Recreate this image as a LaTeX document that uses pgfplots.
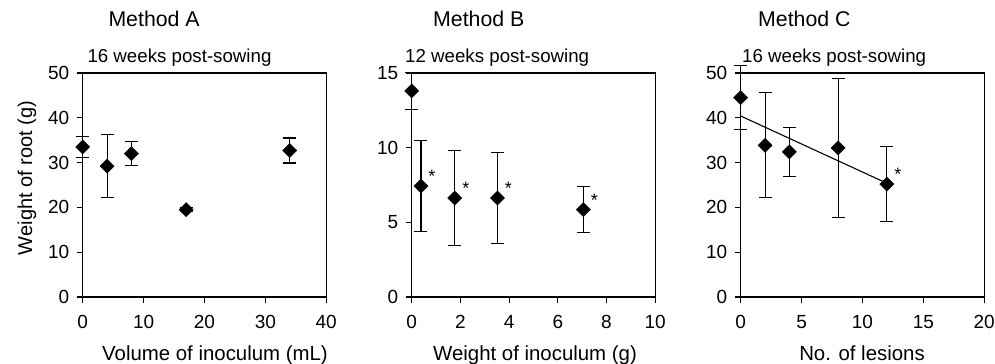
\documentclass[border=0pt]{standalone}
\usepackage{fontspec}
\setmainfont{Liberation Sans}
\usepackage{pgfplots}
\pgfplotsset{compat=1.18}
\begin{document}
\begin{tikzpicture}
\path[use as bounding box] (0bp,0bp) rectangle (995bp,364bp);
\pgfplotsset{
 every axis/.append style={
  scale only axis, width=243.5bp, height=224bp, anchor=south west,
  axis line style={line width=1.1bp},
  tick align=outside, tick pos=left, major tick length=6bp,
  every tick/.style={line width=1.1bp, black},
  ymin=0, clip=false,
  tick label style={font=\fontsize{19bp}{22bp}\selectfont},
  xticklabel style={yshift=-9bp},
  yticklabel style={xshift=-4bp},
  /pgf/number format/assume math mode=true,
 },
 pt/.style={only marks, black, mark=square*, mark size=5bp,
   mark options={rotate=45, fill=black, draw=black},
   error bars/.cd, y dir=both, y explicit,
   error mark options={rotate=90, mark size=6.5bp, line width=1.1bp, black},
   error bar style={line width=1.1bp, black}},
 star/.style={draw=none, mark=none, nodes near coords={*},
   every node near coord/.style={anchor=base, xshift=11bp, yshift=3.5bp, font=\fontsize{18bp}{20bp}\selectfont}},
}
% Method A
\begin{axis}[at={(82.7bp,67bp)}, xmin=0, xmax=40, ymax=50, xtick={0,10,...,40}, ytick={0,10,...,50}]
\addplot[pt] coordinates {
 (0,33.5) +- (0,2.3)
 (4,29.2) +- (0,7.0)
 (8,32.0) +- (0,2.7)
 (17,19.5) +- (0,0.5)
 (34,32.7) +- (0,2.8)
};
\end{axis}
% Method B
\begin{axis}[at={(411.7bp,67bp)}, xmin=0, xmax=10, ymax=15, xtick={0,2,...,10}, ytick={0,5,10,15}]
\addplot[pt] coordinates {
 (0,13.8) +- (0,1.25)
 (0.38,7.43) +- (0,3.06)
 (1.77,6.63) +- (0,3.2)
 (3.52,6.63) +- (0,3.05)
 (7.05,5.85) +- (0,1.53)
};
\addplot[star] coordinates {(0.38,7.43) (1.77,6.63) (3.52,6.63) (7.05,5.85)};
\end{axis}
% Method C
\begin{axis}[at={(740.7bp,67bp)}, xmin=0, xmax=20, ymax=50, xtick={0,5,...,20}, ytick={0,10,...,50}]
\addplot[black, line width=1.1bp] coordinates {(0,40.4) (12,25.4)};
\addplot[pt] coordinates {
 (0,44.5) +- (0,7.1)
 (2,33.85) +- (0,11.7)
 (4,32.4) +- (0,5.5)
 (8,33.3) +- (0,15.5)
 (12,25.2) +- (0,8.4)
};
\addplot[star] coordinates {(12,25.2)};
\end{axis}
% titles
\begin{scope}[every node/.style={inner sep=0pt}]
\node[anchor=base west, font=\fontsize{21.3bp}{24bp}\selectfont] at (108.3bp,337.3bp) {Method A};
\node[anchor=base west, font=\fontsize{21.3bp}{24bp}\selectfont] at (433bp,337.3bp) {Method B};
\node[anchor=base west, font=\fontsize{21.3bp}{24bp}\selectfont] at (758bp,337.3bp) {Method C};
\node[anchor=base west, font=\fontsize{18.7bp}{22bp}\selectfont] at (87.3bp,301.3bp) {16 weeks post-sowing};
\node[anchor=base west, font=\fontsize{18.7bp}{22bp}\selectfont] at (405bp,301.3bp) {12 weeks post-sowing};
\node[anchor=base west, font=\fontsize{18.7bp}{22bp}\selectfont] at (742bp,301.3bp) {16 weeks post-sowing};
\node[anchor=base, font=\fontsize{20.4bp}{22bp}\selectfont] at (215bp,4bp) {Volume of inoculum (mL)};
\node[anchor=base, font=\fontsize{20.4bp}{22bp}\selectfont] at (535bp,4bp) {Weight of inoculum (g)};
\node[anchor=base, font=\fontsize{20.4bp}{22bp}\selectfont] at (862bp,4bp) {No. of lesions};
\node[rotate=90, font=\fontsize{20bp}{22bp}\selectfont] at (27bp,186bp) {Weight of root (g)};
\end{scope}
\end{tikzpicture}
\end{document}
